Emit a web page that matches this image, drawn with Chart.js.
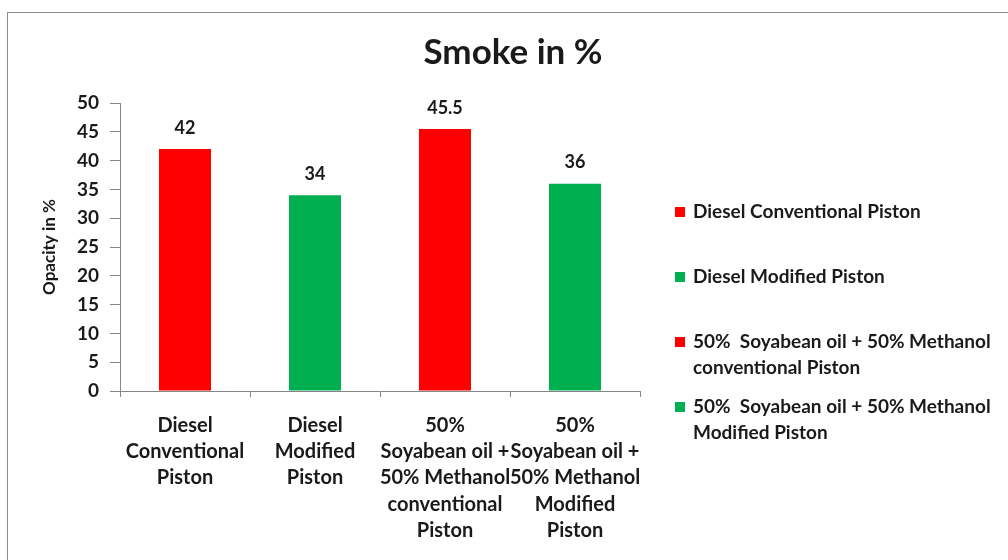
<!DOCTYPE html>
<html>
<head>
<meta charset="utf-8">
<title>Smoke in %</title>
<script src="https://cdn.jsdelivr.net/npm/chart.js@4/dist/chart.umd.min.js"></script>
<style>
  html, body { margin: 0; padding: 0; background: #fff; }
  #wrap { width: 1008px; height: 560px; }
</style>
</head>
<body>
<div id="wrap"><canvas id="smokeChart" width="1008" height="560"></canvas></div>
<script>
const categories = [
  ["Diesel", "Conventional", "Piston"],
  ["Diesel", "Modified", "Piston"],
  ["50%", "Soyabean oil +", "50% Methanol", "conventional", "Piston"],
  ["50%", "Soyabean oil +", "50% Methanol", "Modified", "Piston"],
];
const smokeValues = [42, 34, 45.5, 36];
const barColors = ["#FF0000", "#00B050", "#FF0000", "#00B050"];
const legendNames = [
  ["Diesel Conventional Piston"],
  ["Diesel Modified Piston"],
  ["50%  Soyabean oil + 50% Methanol", "conventional Piston"],
  ["50%  Soyabean oil + 50% Methanol", "Modified Piston"],
];

const FONT = "Lato, 'Open Sans', sans-serif";
const TEXT = "#1a1a1a";
const AXIS = "#868686";

// outer frame of the chart
const framePlugin = {
  id: "frame",
  beforeDraw(chart) {
    const ctx = chart.ctx;
    ctx.save();
    ctx.strokeStyle = "#8c8c8c";
    ctx.lineWidth = 1;
    ctx.strokeRect(7.5, 12.5, 1100, 700);
    ctx.restore();
  },
};

// value printed above each bar
const valueLabels = {
  id: "valueLabels",
  afterDatasetsDraw(chart) {
    const ctx = chart.ctx;
    const meta = chart.getDatasetMeta(0);
    ctx.save();
    ctx.font = "bold 18px " + FONT;
    ctx.fillStyle = TEXT;
    ctx.textAlign = "center";
    ctx.textBaseline = "middle";
    meta.data.forEach((bar, i) => {
      ctx.fillText(String(smokeValues[i]), bar.x, bar.y - 21);
    });
    ctx.restore();
  },
};

// legend on the right, one entry per category, with wrapped names
const sideLegend = {
  id: "sideLegend",
  afterDraw(chart) {
    const ctx = chart.ctx;
    const box = chart.scales.legendSpace;
    const x0 = box.left + 35;
    let y = 212;
    ctx.save();
    ctx.font = "bold 19px " + FONT;
    ctx.textBaseline = "middle";
    legendNames.forEach((lines, i) => {
      ctx.fillStyle = barColors[i];
      ctx.fillRect(x0, y - 5, 10, 10);
      ctx.fillStyle = TEXT;
      lines.forEach((line, k) => ctx.fillText(line, x0 + 18, y + k * 26));
      y += 65;
    });
    ctx.restore();
  },
};

new Chart(document.getElementById("smokeChart"), {
  type: "bar",
  data: {
    labels: categories,
    datasets: [
      {
        label: "Smoke",
        data: smokeValues,
        backgroundColor: barColors,
        borderWidth: 0,
        barPercentage: 0.4,
        categoryPercentage: 1,
      },
    ],
  },
  options: {
    responsive: false,
    animation: false,
    layout: { padding: { left: 18, top: 0, right: 0, bottom: 0 } },
    plugins: {
      legend: { display: false },
      tooltip: { enabled: false },
      title: {
        display: true,
        text: "Smoke in %",
        color: TEXT,
        font: { family: FONT, size: 35, weight: "bold" },
        padding: { top: 32, bottom: 29 },
      },
    },
    scales: {
      x: {
        grid: {
          display: true,
          drawOnChartArea: false,
          drawTicks: true,
          tickLength: 6,
          color: AXIS,
          offset: true,
        },
        border: { color: AXIS },
        ticks: {
          color: TEXT,
          font: { family: FONT, size: 20, weight: "bold", lineHeight: 1.32 },
          padding: 15,
          maxRotation: 0,
          autoSkip: false,
        },
        afterFit(scale) {
          scale.height = 169;
        },
      },
      y: {
        min: 0,
        max: 50,
        grid: {
          display: true,
          drawOnChartArea: false,
          drawTicks: true,
          tickLength: 10,
          color: AXIS,
        },
        border: { color: AXIS },
        ticks: {
          stepSize: 5,
          color: TEXT,
          font: { family: FONT, size: 19, weight: "bold" },
          padding: 11,
        },
        title: {
          display: true,
          text: "Opacity in %",
          color: TEXT,
          font: { family: FONT, size: 17, weight: "bold" },
          padding: { top: 21, bottom: 0 },
        },
        afterFit(scale) {
          scale.width = 102;
        },
      },
      legendSpace: {
        type: "linear",
        axis: "y",
        position: "right",
        display: true,
        grid: { display: false },
        border: { display: false },
        ticks: { display: false },
        afterFit(scale) {
          scale.width = 368;
        },
      },
    },
  },
  plugins: [framePlugin, valueLabels, sideLegend],
});
</script>
</body>
</html>
